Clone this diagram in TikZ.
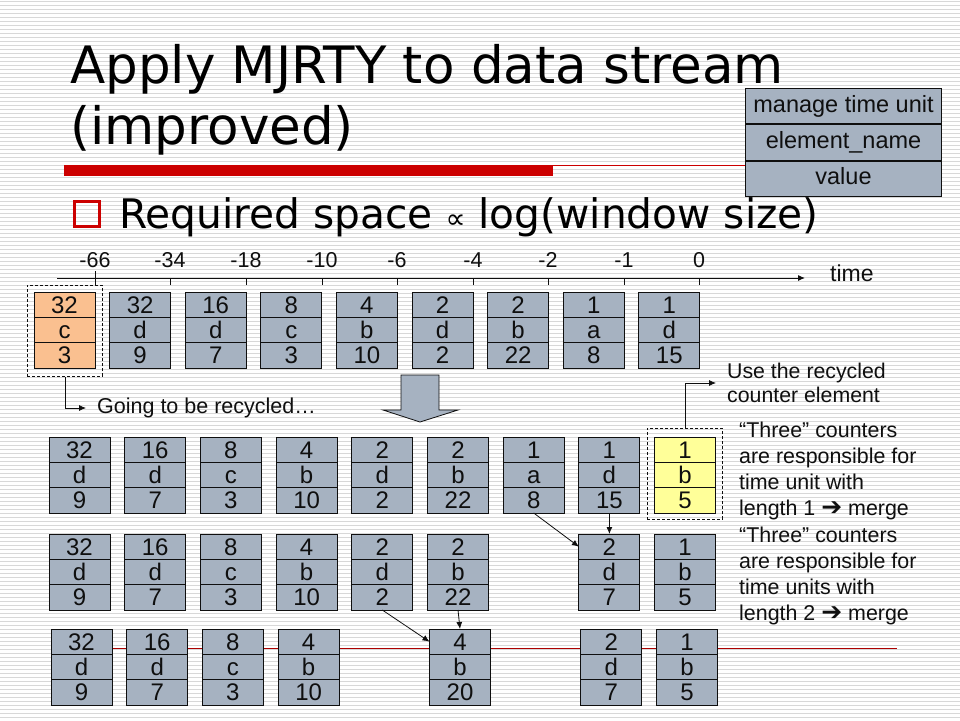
\documentclass[tikz,border=0pt]{standalone}
\usepackage{fontspec}
\setmainfont{Liberation Sans}
\newfontfamily\titlefont{DejaVu Sans}
\usetikzlibrary{calc,arrows.meta}
\definecolor{cellblue}{RGB}{166,178,193}
\definecolor{cellorange}{RGB}{250,192,144}
\definecolor{cellyellow}{RGB}{255,255,153}
\definecolor{stripegray}{RGB}{216,216,216}
\definecolor{slidered}{RGB}{204,0,0}
\definecolor{ink}{RGB}{15,15,15}
\tikzset{
  cell/.style={draw=ink, line width=1pt, minimum width=61pt, minimum height=76pt,
    inner sep=0pt, outer sep=0pt, anchor=north west},
  celltext/.style={inner sep=0pt, text height=17.2pt, text depth=0pt, text=ink,
    font=\fontsize{24}{24}\selectfont},
  tip/.style={-{Latex[length=7pt,width=6pt]}, line width=0.8pt, draw=ink},
  dashedrect/.style={draw=ink, line width=0.8pt, dash pattern=on 3pt off 2pt,
    inner sep=0pt, anchor=north west},
  ticklabel/.style={inner sep=0pt, anchor=base, text=ink, font=\fontsize{21.5}{21.5}\selectfont},
  note/.style={inner sep=0pt, align=left, text=ink},
  legendcell/.style={draw=ink, line width=1pt, fill=cellblue, minimum width=196pt,
    minimum height=35.3pt, inner sep=0pt, text=ink, text height=16.8pt, text depth=4.9pt,
    font=\fontsize{23.5}{23.5}\selectfont},
}
\newcommand\cbox[7]{%
  \node[cell, fill=#7] (#1) at (#2,#3) {};
  \draw[ink, line width=1pt] ($(#1.north west)!0.3333!(#1.south west)$) -- ($(#1.north east)!0.3333!(#1.south east)$);
  \draw[ink, line width=1pt] ($(#1.north west)!0.6667!(#1.south west)$) -- ($(#1.north east)!0.6667!(#1.south east)$);
  \node[celltext] (#1-1) at ($(#1.north)!0.1667!(#1.south)$) {#4};
  \node[celltext] (#1-2) at (#1.center) {#5};
  \node[celltext] (#1-3) at ($(#1.north)!0.8333!(#1.south)$) {#6};
}
\newcommand\heavyarrow{{\titlefont\bfseries\fontsize{25}{25}\selectfont ➔}}
\begin{document}
\begin{tikzpicture}[x=1pt,y=-1pt]
\useasboundingbox (0,0) rectangle (960,720);
% background
\fill[white] (0,0) rectangle (960,720);
\foreach \i in {0,...,179} {
  \draw[stripegray, line width=1pt] (0,\i*4+1.5) -- (960,\i*4+1.5);
}
% title rules
\fill[slidered] (64,165) rectangle (553,176);
\draw[slidered, line width=1pt] (553,165.5) -- (760,165.5);
\draw[slidered!85!black, line width=1pt] (51,648) -- (897,648);

% title
\node[inner sep=0pt, anchor=base west, font=\titlefont\fontsize{51.5}{51.5}\selectfont] (title1) at (70,83) {Apply MJRTY to data stream};
\node[inner sep=0pt, anchor=base west, font=\titlefont\fontsize{51.5}{51.5}\selectfont] (title2) at (70,144) {(improved)};
\node[draw=slidered, line width=3pt, minimum size=25pt, inner sep=0pt] (bullet) at (87,214) {};
\node[inner sep=0pt, anchor=base west, font=\titlefont\fontsize{40.7}{40.7}\selectfont] (subtitle) at (119,228) {Required space {\fontsize{28}{28}\selectfont∝} log(window size)};

% legend
\node[legendcell, anchor=north west] (leg1) at (745,88) {manage time unit};
\node[legendcell, anchor=north] (leg2) at (leg1.south) {element\_name};
\node[legendcell, anchor=north] (leg3) at (leg2.south) {value};

% timeline
\coordinate (tl0) at (57,278);
\coordinate (tl1) at (805,278);
\draw[tip, line width=1pt] (tl0) -- (tl1);
\node[inner sep=0pt, anchor=west, text=ink, font=\fontsize{23}{23}\selectfont] (timelab) at (830,273) {time};
\draw[ink, line width=1pt] (95,271) coordinate (tk0) -- (95,285);
\foreach \x/\lab [count=\k] in {170/-34,246/-18,322/-10,397/-6,473/-4,548/-2,624/-1,699/0} {
  \draw[ink, line width=1pt] (\x,278) coordinate (tk\k) -- (\x,285);
}
\foreach \x/\lab [count=\k] in {95/-66,170/-34,246/-18,322/-10,397/-6,473/-4,548/-2,624/-1,699/0} {
  \node[ticklabel] (lab\k) at (\x,267) {\lab};
}

% top row
\cbox{t0}{34}{292}{32}{c}{3}{cellorange}
\cbox{t1}{109.6}{292}{32}{d}{9}{cellblue}
\cbox{t2}{185.2}{292}{16}{d}{7}{cellblue}
\cbox{t3}{260.8}{292}{8}{c}{3}{cellblue}
\cbox{t4}{336.4}{292}{4}{b}{10}{cellblue}
\cbox{t5}{412}{292}{2}{d}{2}{cellblue}
\cbox{t6}{487.6}{292}{2}{b}{22}{cellblue}
\cbox{t7}{563.2}{292}{1}{a}{8}{cellblue}
\cbox{t8}{638.8}{292}{1}{d}{15}{cellblue}
\node[dashedrect, minimum width=75pt, minimum height=91pt] (rec1) at (27,285) {};
\node[note, anchor=west, font=\fontsize{21.5}{21.5}\selectfont] (recyc) at (97,408) {Going to be recycled…};
\draw[tip] (rec1.south) |- ([xshift=-11pt]recyc.west);

% big arrow
\draw[ink, line width=0.8pt, fill=cellblue] (401,375) -- (439,375) -- (439,410) -- (458,410) -- (420,422) -- (383,410) -- (401,410) -- cycle;

% row 2
\cbox{a0}{49}{437}{32}{d}{9}{cellblue}
\cbox{a1}{124.7}{437}{16}{d}{7}{cellblue}
\cbox{a2}{200.4}{437}{8}{c}{3}{cellblue}
\cbox{a3}{276.1}{437}{4}{b}{10}{cellblue}
\cbox{a4}{351.8}{437}{2}{d}{2}{cellblue}
\cbox{a5}{427.5}{437}{2}{b}{22}{cellblue}
\cbox{a6}{503.2}{437}{1}{a}{8}{cellblue}
\cbox{a7}{578.9}{437}{1}{d}{15}{cellblue}
\cbox{a8}{654.6}{437}{1}{b}{5}{cellyellow}
\node[dashedrect, minimum width=75pt, minimum height=91pt] (rec2) at (647,428) {};
\node[note, anchor=west, font=\fontsize{21.3}{24}\selectfont] (usetext) at (727,383) {Use the recycled\\counter element};
\draw[tip] (rec2.north) |- ([xshift=-11pt]usetext.west);
\node[note, anchor=west, font=\fontsize{21.4}{26}\selectfont] (three1) at (739,471) {“Three” counters\\are responsible for\\time unit with\\length 1 \heavyarrow{} merge};

% row 3
\cbox{b0}{49}{534}{32}{d}{9}{cellblue}
\cbox{b1}{124.7}{534}{16}{d}{7}{cellblue}
\cbox{b2}{200.4}{534}{8}{c}{3}{cellblue}
\cbox{b3}{276.1}{534}{4}{b}{10}{cellblue}
\cbox{b4}{351.8}{534}{2}{d}{2}{cellblue}
\cbox{b5}{427.5}{534}{2}{b}{22}{cellblue}
\cbox{b7}{578.9}{534}{2}{d}{7}{cellblue}
\cbox{b8}{654.6}{534}{1}{b}{5}{cellblue}
\node[note, anchor=west, font=\fontsize{21.4}{26}\selectfont] (three2) at (739,575.5) {“Three” counters\\are responsible for\\time units with\\length 2 \heavyarrow{} merge};

% row 4
\cbox{c0}{51}{629}{32}{d}{9}{cellblue}
\cbox{c1}{126.7}{629}{16}{d}{7}{cellblue}
\cbox{c2}{202.4}{629}{8}{c}{3}{cellblue}
\cbox{c3}{278.1}{629}{4}{b}{10}{cellblue}
\cbox{c5}{429.5}{629}{4}{b}{20}{cellblue}
\cbox{c7}{580.9}{629}{2}{d}{7}{cellblue}
\cbox{c8}{656.6}{629}{1}{b}{5}{cellblue}

% merge arrows
\draw[tip] (a6.south) -- ([yshift=-12.7pt]b7.north west);
\draw[tip] (a7.south) -- (b7.north);
\draw[tip] (b4.south) -- ([yshift=-12.7pt]c5.north west);
\draw[tip] (b5.south) -- (c5.north);
\end{tikzpicture}
\end{document}
